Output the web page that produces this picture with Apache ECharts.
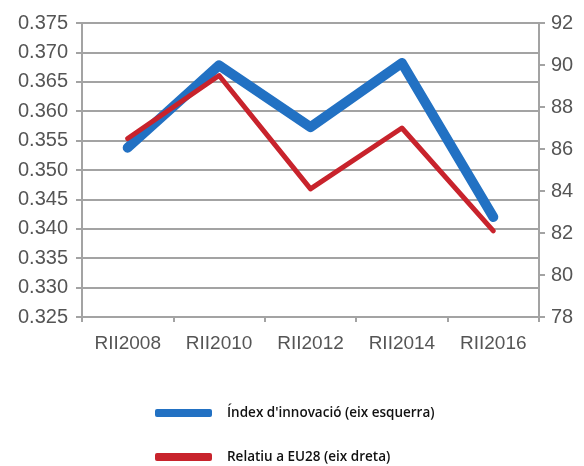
<!DOCTYPE html>
<html>
<head>
<meta charset="utf-8">
<script src="https://cdn.jsdelivr.net/npm/echarts@6/dist/echarts.min.js"></script>
<style>
  html, body { margin: 0; padding: 0; background: #fff; }
  #chart { width: 584px; height: 466px; }
</style>
</head>
<body>
<div id="chart"></div>
<script>
// Innovation index (left axis) and relative to EU28 (right axis), per RII edition
const categories = ['RII2008', 'RII2010', 'RII2012', 'RII2014', 'RII2016'];
const innovationIndex = [0.3538, 0.3678, 0.3573, 0.3682, 0.3420];
const relativeEU28 = [86.5, 89.5, 84.1, 87.0, 82.1];
const seriesNames = ["Índex d'innovació (eix esquerra)", 'Relatiu a EU28 (eix dreta)'];

const axisGrey = '#a3a3a3';
const labelGrey = '#555555';
const labelFont = '"Liberation Sans", Arial, sans-serif';

const chart = echarts.init(document.getElementById('chart'), null, { renderer: 'canvas' });
chart.setOption({
  animation: false,
  backgroundColor: '#ffffff',
  grid: { left: 82, right: 45, top: 23, bottom: 149 },
  legend: {
    orient: 'vertical',
    left: 155,
    top: 406,
    padding: 0,
    itemWidth: 57,
    itemHeight: 8,
    itemGap: 30,
    icon: 'roundRect',
    textStyle: {
      fontFamily: '"Open Sans", sans-serif',
      fontWeight: 600,
      fontSize: 13.5,
      color: '#111111',
      padding: [0, 0, 0, 10]
    },
    data: [
      { name: seriesNames[0], itemStyle: { color: '#2271c3' } },
      { name: seriesNames[1], itemStyle: { color: '#c8232c' } }
    ]
  },
  xAxis: {
    type: 'category',
    data: categories,
    boundaryGap: true,
    axisLine: { lineStyle: { color: axisGrey, width: 2 } },
    axisTick: { show: true, length: 5, lineStyle: { color: axisGrey, width: 2 } },
    axisLabel: { color: labelGrey, fontFamily: labelFont, fontSize: 19, margin: 17 }
  },
  yAxis: [
    {
      type: 'value',
      min: 0.325,
      max: 0.375,
      interval: 0.005,
      axisLine: { show: true, lineStyle: { color: axisGrey, width: 2 } },
      axisTick: { show: true, length: 6, lineStyle: { color: axisGrey, width: 2 } },
      splitLine: { show: true, lineStyle: { color: axisGrey, width: 2 } },
      axisLabel: {
        color: labelGrey, fontFamily: labelFont, fontSize: 20, margin: 14,
        formatter: v => v.toFixed(3)
      }
    },
    {
      type: 'value',
      position: 'right',
      min: 78,
      max: 92,
      interval: 2,
      axisLine: { show: true, lineStyle: { color: axisGrey, width: 2 } },
      axisTick: { show: true, length: 6, lineStyle: { color: axisGrey, width: 2 } },
      splitLine: { show: false },
      axisLabel: { color: labelGrey, fontFamily: labelFont, fontSize: 20, margin: 12 }
    }
  ],
  series: [
    {
      name: seriesNames[0],
      type: 'line',
      yAxisIndex: 0,
      data: innovationIndex,
      showSymbol: false,
      symbol: 'none',
      lineStyle: { color: '#2271c3', width: 10, cap: 'round', join: 'round' },
      itemStyle: { color: '#2271c3' }
    },
    {
      name: seriesNames[1],
      type: 'line',
      yAxisIndex: 1,
      data: relativeEU28,
      showSymbol: false,
      symbol: 'none',
      lineStyle: { color: '#c8232c', width: 5, cap: 'round', join: 'round' },
      itemStyle: { color: '#c8232c' }
    }
  ]
});
</script>
</body>
</html>
